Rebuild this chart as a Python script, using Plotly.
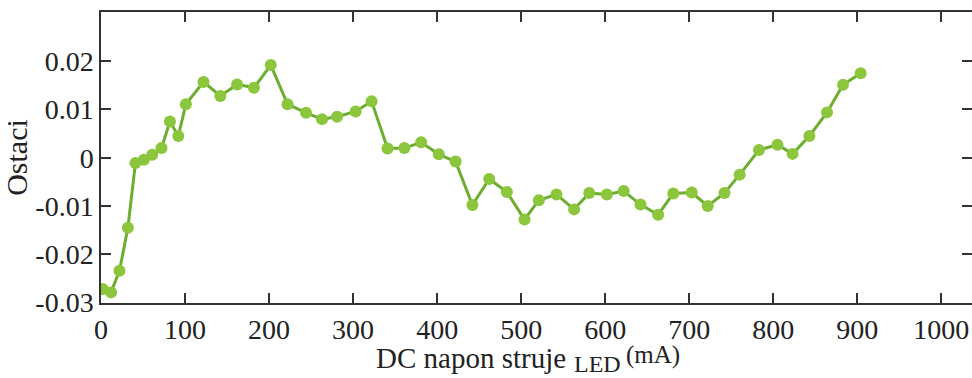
import plotly.graph_objects as go

current_mA = [2, 12, 22, 32, 41, 51, 61, 72, 82, 92, 101,
              122, 142, 162, 182, 202, 222, 244, 263, 281, 303, 322,
              341, 361, 381, 402, 422, 442, 462, 483, 504, 521, 542,
              563, 581, 602, 622, 642, 663, 681, 703, 722, 742, 760,
              783, 805, 823, 843, 864, 883, 904]
residuals = [-0.0272, -0.0279, -0.0234, -0.0145, -0.0011, -0.0004, 0.0006, 0.0020, 0.0075, 0.0045, 0.0111,
             0.0157, 0.0128, 0.0152, 0.0145, 0.0192, 0.0111, 0.0093, 0.0080, 0.0085, 0.0096, 0.0117,
             0.0019, 0.0020, 0.0032, 0.0007, -0.0008, -0.0098, -0.0044, -0.0071, -0.0128, -0.0088, -0.0076,
             -0.0107, -0.0073, -0.0076, -0.0069, -0.0097, -0.0118, -0.0074, -0.0072, -0.0100, -0.0073, -0.0035,
             0.0016, 0.0027, 0.0008, 0.0045, 0.0094, 0.0151, 0.0175]

x_ticks = [0, 100, 200, 300, 400, 500, 600, 700, 800, 900, 1000]
y_ticks = [-0.03, -0.02, -0.01, 0, 0.01, 0.02]
y_tick_labels = ["-0.03", "-0.02", "-0.01", "0", "0.01", "0.02"]

x_title_main = "DC napon struje"
x_title_sub = "LED"
x_title_unit = "(mA)"
y_title = "Ostaci"

FONT = "Liberation Serif, Times New Roman, serif"
TXT = "#222222"
Y_RANGE = [-0.0301, 0.0302]

fig = go.Figure()
fig.add_trace(go.Scatter(
    x=current_mA, y=residuals, mode="lines+markers",
    line=dict(color="#6cae30", width=3),
    marker=dict(color="#8cc63c", size=12),
    showlegend=False,
))
# same data on the right-hand axis, hidden, so the right tick marks are drawn
fig.add_trace(go.Scatter(
    x=current_mA, y=residuals, mode="lines", yaxis="y2",
    line=dict(color="rgba(0,0,0,0)", width=0),
    showlegend=False, hoverinfo="skip",
))

tick_common = dict(
    ticks="inside", ticklen=10, tickwidth=1.5, tickcolor="#333333",
    showgrid=False, zeroline=False,
    tickfont=dict(family=FONT, size=28, color=TXT),
)

fig.update_layout(
    width=972, height=378,
    margin=dict(l=101, r=0, t=12, b=75),
    paper_bgcolor="white", plot_bgcolor="white",
    font=dict(family=FONT, color=TXT),
    xaxis=dict(
        range=[0, 1036.5], tickvals=x_ticks,
        showline=True, linecolor="#333333", linewidth=1.5, mirror="ticks",
        ticklabelstandoff=1,
        **tick_common,
    ),
    yaxis=dict(
        range=Y_RANGE, tickvals=y_ticks, ticktext=y_tick_labels,
        showline=True, linecolor="#333333", linewidth=1.5, mirror=False,
        title=dict(text=y_title, font=dict(family=FONT, size=30, color=TXT), standoff=4),
        ticklabelstandoff=0,
        **tick_common,
    ),
    yaxis2=dict(
        range=Y_RANGE, tickvals=y_ticks, overlaying="y", side="right",
        showline=False, showticklabels=False,
        **tick_common,
    ),
)

# x-axis title built from three pieces: main text, subscript and unit
fig.add_annotation(text=x_title_main, xref="paper", yref="paper", x=0.535, y=0,
                   xanchor="right", yanchor="bottom", yshift=-72, borderpad=0,
                   showarrow=False, font=dict(family=FONT, size=29, color=TXT))
fig.add_annotation(text=x_title_sub, xref="paper", yref="paper", x=0.5419, y=0,
                   xanchor="left", yanchor="bottom", yshift=-75, borderpad=0,
                   showarrow=False, font=dict(family=FONT, size=24, color=TXT))
fig.add_annotation(text=x_title_unit, xref="paper", yref="paper", x=0.6016, y=0,
                   xanchor="left", yanchor="bottom", yshift=-67, borderpad=0,
                   showarrow=False, font=dict(family=FONT, size=25, color=TXT))

fig.write_html("out.html")
